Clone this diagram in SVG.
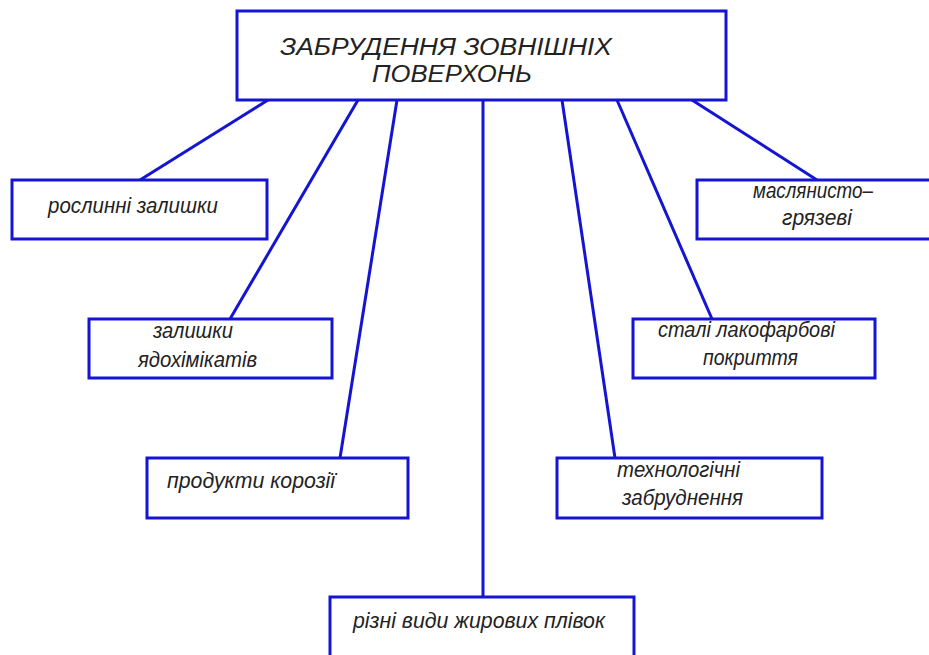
<svg xmlns="http://www.w3.org/2000/svg" width="929" height="655" viewBox="0 0 929 655">
<style>
.box{fill:#ffffff;stroke:#1414d2;stroke-width:3}
.ln{stroke:#1414d2;stroke-width:3;fill:none}
.t{font-family:"Liberation Sans",Arial,sans-serif;font-style:italic;font-size:22px;fill:#222222}
.h{font-size:23px}
</style>
<rect width="929" height="655" fill="#ffffff"/>
<g id="connectors">
<line class="ln" x1="268" y1="100" x2="140" y2="180"/>
<line class="ln" x1="358" y1="100" x2="230" y2="319"/>
<line class="ln" x1="397" y1="100" x2="340" y2="458"/>
<line class="ln" x1="483" y1="100" x2="483" y2="597"/>
<line class="ln" x1="562" y1="100" x2="615" y2="458"/>
<line class="ln" x1="617" y1="100" x2="712" y2="319"/>
<line class="ln" x1="692" y1="100" x2="817" y2="180"/>
</g>
<g id="root">
<rect class="box" x="237" y="11" width="489" height="89"/>
<text class="t h" x="280" y="55" textLength="332" lengthAdjust="spacingAndGlyphs">ЗАБРУДЕННЯ ЗОВНІШНІХ</text>
<text class="t h" x="372" y="82" textLength="160" lengthAdjust="spacingAndGlyphs">ПОВЕРХОНЬ</text>
</g>
<g id="n1">
<rect class="box" x="12" y="180" width="255" height="59"/>
<text class="t" x="48" y="213" textLength="170" lengthAdjust="spacingAndGlyphs">рослинні залишки</text>
</g>
<g id="n2">
<rect class="box" x="89" y="319" width="243" height="59"/>
<text class="t" x="153" y="338" textLength="80" lengthAdjust="spacingAndGlyphs">залишки</text>
<text class="t" x="138" y="367" textLength="119" lengthAdjust="spacingAndGlyphs">ядохімікатів</text>
</g>
<g id="n3">
<rect class="box" x="147" y="458" width="261" height="60"/>
<text class="t" x="167" y="488" textLength="168" lengthAdjust="spacingAndGlyphs">продукти корозії</text>
</g>
<g id="n4">
<rect class="box" x="330" y="597" width="304" height="64"/>
<text class="t" x="353" y="628" textLength="252" lengthAdjust="spacingAndGlyphs">різні види жирових плівок</text>
</g>
<g id="n5">
<rect class="box" x="557" y="458" width="265" height="60"/>
<text class="t" x="617" y="477" textLength="123" lengthAdjust="spacingAndGlyphs">технологічні</text>
<text class="t" x="622" y="505" textLength="121" lengthAdjust="spacingAndGlyphs">забруднення</text>
</g>
<g id="n6">
<rect class="box" x="633" y="319" width="242" height="59"/>
<text class="t" x="658" y="337" textLength="177" lengthAdjust="spacingAndGlyphs">сталі лакофарбові</text>
<text class="t" x="703" y="365" textLength="95" lengthAdjust="spacingAndGlyphs">покриття</text>
</g>
<g id="n7">
<rect class="box" x="697" y="180" width="240" height="59"/>
<text class="t" x="753" y="198" textLength="120" lengthAdjust="spacingAndGlyphs">маслянисто–</text>
<text class="t" x="782" y="225" textLength="70" lengthAdjust="spacingAndGlyphs">грязеві</text>
</g>
</svg>
